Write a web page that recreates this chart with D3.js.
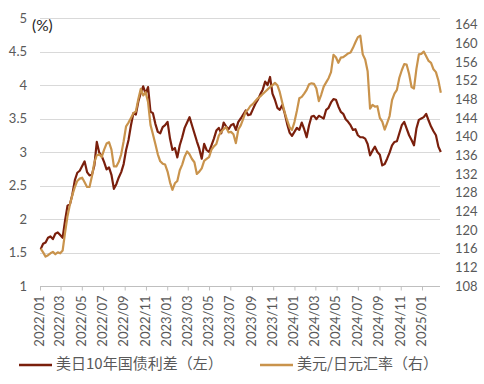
<!DOCTYPE html>
<html>
<head>
<meta charset="utf-8">
<script src="https://cdn.jsdelivr.net/npm/d3@7"></script>
<style>
  body { margin: 0; background: #fff; }
</style>
</head>
<body>
<svg id="chart" width="484" height="384"></svg>
<script>
// weekly readings (Mondays, 2022-01-03 .. 2025-02-24)
const spread = [
  1.55, 1.63, 1.65, 1.72, 1.74, 1.70, 1.78, 1.80, 1.76, 1.72,
  1.98, 2.20, 2.22, 2.37, 2.58, 2.69, 2.72, 2.79, 2.86, 2.70,
  2.65, 2.66, 2.80, 3.15, 2.99, 2.94, 2.85, 2.74, 2.77, 2.66,
  2.45, 2.52, 2.62, 2.70, 2.82, 3.03, 3.18, 3.40, 3.58, 3.56,
  3.75, 3.88, 3.98, 3.87, 3.97, 3.60, 3.58, 3.42, 3.30, 3.28,
  3.37, 3.40, 3.45, 3.20, 3.03, 3.06, 2.92, 3.10, 3.22, 3.36,
  3.44, 3.52, 3.40, 3.28, 3.16, 3.05, 2.90, 3.12, 3.03, 3.00,
  3.10, 3.20, 3.32, 3.36, 3.28, 3.44, 3.38, 3.34, 3.40, 3.42,
  3.33, 3.45, 3.50, 3.56, 3.62, 3.55, 3.56, 3.64, 3.72, 3.78,
  3.86, 3.93, 4.05, 4.00, 4.12, 3.87, 3.78, 3.66, 3.63, 3.70,
  3.58, 3.42, 3.29, 3.24, 3.30, 3.36, 3.33, 3.44, 3.34, 3.22,
  3.40, 3.53, 3.54, 3.49, 3.54, 3.52, 3.50, 3.63, 3.66, 3.74,
  3.79, 3.78, 3.68, 3.60, 3.57, 3.49, 3.45, 3.40, 3.33, 3.34,
  3.25, 3.22, 3.22, 3.20, 3.12, 2.95, 3.02, 3.08, 3.00, 2.96,
  2.80, 2.82, 2.90, 2.99, 3.10, 3.15, 3.16, 3.28, 3.40, 3.45,
  3.35, 3.25, 3.18, 3.10, 3.35, 3.48, 3.50, 3.52, 3.57, 3.47,
  3.38, 3.31, 3.25, 3.08, 3.00
]

const usdjpy = [
  116.0, 115.2, 114.3, 114.6, 115.0, 115.3, 114.8, 115.2, 115.0, 115.6,
  119.5, 123.0, 125.5, 127.5, 129.2, 130.5, 131.0, 131.2, 130.2, 129.2,
  129.2, 131.5, 134.5, 136.0, 136.2, 135.6, 137.2, 138.5, 138.8, 137.2,
  133.6, 133.6, 134.6, 136.2, 139.0, 142.2, 143.0, 144.0, 145.0, 145.4,
  148.0, 150.2, 148.8, 149.5, 147.4, 142.5, 140.5, 138.4, 136.2, 134.7,
  134.2, 134.0, 132.5, 130.2, 128.6, 130.0, 130.5, 132.8, 134.0, 135.7,
  136.8, 136.2, 135.2, 134.5, 132.0, 132.5, 133.2, 134.8, 135.2, 135.6,
  137.2, 137.9, 138.4, 140.2, 141.0, 141.6, 142.0, 140.9, 141.0, 140.5,
  138.6, 141.5, 142.4, 143.8, 145.3, 145.8, 146.6, 147.0, 147.6, 148.2,
  148.6, 149.1, 149.6, 150.1, 150.6, 151.0, 151.5, 151.0, 149.5, 147.3,
  145.2, 143.5, 142.0, 141.4, 143.1, 145.5, 148.2, 148.5, 149.2, 150.0,
  151.2, 151.4, 151.3, 150.3, 147.6, 149.0, 150.7, 151.6, 152.5, 153.8,
  157.5, 157.0, 155.8, 156.9, 157.0, 157.4, 157.8, 158.0, 159.0, 160.2,
  161.3, 161.6, 157.6, 156.5, 154.0, 146.0, 146.8, 146.4, 146.5, 144.0,
  143.2, 141.5, 142.9, 144.4, 147.8, 149.2, 150.0, 152.6, 154.2, 155.5,
  155.4, 153.4, 150.6, 150.3, 154.5, 157.6, 157.7, 158.2, 157.2, 156.2,
  155.8, 154.4, 153.8, 152.0, 149.4
]

const leftTicks = [1, 1.5, 2, 2.5, 3, 3.5, 4, 4.5, 5]
const rightTicks = [108, 112, 116, 120, 124, 128, 132, 136, 140, 144, 148, 152, 156, 160, 164]
const xTickLabels = [
  '2022/01', '2022/03', '2022/05', '2022/07', '2022/09', '2022/11',
  '2023/01', '2023/03', '2023/05', '2023/07', '2023/09', '2023/11',
  '2024/01', '2024/03', '2024/05', '2024/07', '2024/09', '2024/11', '2025/01'
]
const seriesNames = ['美日10年国债利差（左）', '美元/日元汇率（右）']
const colors = ['#7a1f0c', '#c9934c']

const weeks = d3.timeMonday.range(new Date(2022, 0, 3), new Date(2025, 2, 1))
const parseMonth = d3.timeParse('%Y/%m')
const tickDates = xTickLabels.map(parseMonth)

const margin = { left: 40, right: 44, top: 18, bottom: 98 }
const width = 484
const height = 384
const plotRight = width - margin.right
const plotBottom = height - margin.bottom

const x = d3.scaleTime()
  .domain([new Date(2022, 0, 1), new Date(2025, 0, 1)])
  .range([margin.left, 422])

const yL = d3.scaleLinear().domain([1, 5]).range([plotBottom, margin.top])
const yR = d3.scaleLinear().domain([108, 164]).range([plotBottom, 24.5])

const svg = d3.select('#chart')
const numFont = 'Lato, "Open Sans", sans-serif'
const cjkFont = '"Noto Sans CJK SC", "Noto Sans", sans-serif'

// gridlines
svg.append('g')
  .selectAll('line')
  .data(leftTicks)
  .join('line')
  .attr('x1', margin.left)
  .attr('x2', plotRight)
  .attr('y1', (d) => Math.round(yL(d)) + 0.5)
  .attr('y2', (d) => Math.round(yL(d)) + 0.5)
  .attr('stroke', '#d9d9d9')
  .attr('stroke-width', 1.2)

// left axis
const gL = svg.append('g')
  .attr('transform', `translate(${margin.left},0)`)
  .call(d3.axisLeft(yL).tickValues(leftTicks).tickSize(0).tickPadding(13).tickFormat(String))
gL.select('.domain').remove()
gL.selectAll('text')
  .attr('fill', '#595959')
  .style('font-family', numFont)
  .style('font-size', '13px')

// right axis
const gR = svg.append('g')
  .attr('transform', `translate(${plotRight},0)`)
  .call(d3.axisRight(yR).tickValues(rightTicks).tickSize(0).tickPadding(15))
gR.select('.domain').remove()
gR.selectAll('text')
  .attr('fill', '#595959')
  .style('font-family', numFont)
  .style('font-size', '13px')

// bottom axis
const gX = svg.append('g')
  .attr('transform', `translate(0,${Math.round(plotBottom) + 0.5})`)
  .call(d3.axisBottom(x).tickValues(tickDates).tickSize(4).tickSizeOuter(0)
    .tickFormat(d3.timeFormat('%Y/%m')))
gX.select('.domain')
  .attr('d', `M${margin.left},0H${plotRight}`)
  .attr('stroke', '#bfbfbf')
gX.selectAll('.tick line').attr('stroke', '#bfbfbf')
gX.selectAll('text')
  .attr('fill', '#595959')
  .style('font-family', numFont)
  .style('font-size', '13px')
  .attr('text-anchor', 'end')
  .attr('dy', null)
  .attr('y', 0)
  .attr('dominant-baseline', 'middle')
  .attr('transform', 'translate(0,9) rotate(-90)')

// unit label
svg.append('text')
  .attr('x', 32)
  .attr('y', 31)
  .attr('fill', '#262626')
  .style('font-family', numFont)
  .style('font-size', '15.5px')
  .text('(%)')

// lines
const lineL = d3.line()
  .x((d, i) => x(weeks[i]))
  .y((d) => yL(d))
const lineR = d3.line()
  .x((d, i) => x(weeks[i]))
  .y((d) => yR(d))

svg.append('path')
  .datum(spread)
  .attr('d', lineL)
  .attr('fill', 'none')
  .attr('stroke', colors[0])
  .attr('stroke-width', 2.2)
  .attr('stroke-linejoin', 'round')

svg.append('path')
  .datum(usdjpy)
  .attr('d', lineR)
  .attr('fill', 'none')
  .attr('stroke', colors[1])
  .attr('stroke-width', 2.2)
  .attr('stroke-linejoin', 'round')

// legend
const legend = svg.append('g')
  .selectAll('g')
  .data(seriesNames)
  .join('g')
  .attr('transform', (d, i) => `translate(${i === 0 ? 19 : 260},365)`)
legend.append('line')
  .attr('x1', 0)
  .attr('x2', 33)
  .attr('stroke', (d, i) => colors[i])
  .attr('stroke-width', 2.5)
legend.append('text')
  .attr('x', 37)
  .attr('dominant-baseline', 'middle')
  .attr('fill', '#595959')
  .style('font-family', cjkFont)
  .style('font-size', '15px')
  .text((d) => d)
</script>
</body>
</html>
